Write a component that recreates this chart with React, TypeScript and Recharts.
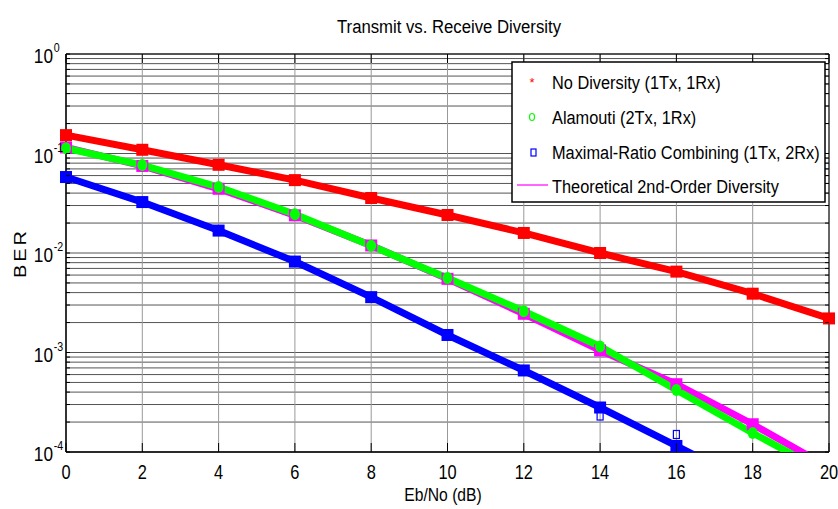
import React from "react";
import { ComposedChart, Line, XAxis, YAxis, CartesianGrid, ReferenceLine } from "recharts";

const ebNo = [0, 2, 4, 6, 8, 10, 12, 14, 16, 18, 20];
const berNoDiversity = [0.153, 0.109, 0.077, 0.054, 0.0357, 0.0241, 0.0159, 0.0100, 0.0065, 0.0039, 0.0022];
const berAlamouti = [0.113, 0.0766, 0.046, 0.0245, 0.0118, 0.0056, 0.0026, 0.00115, 0.00042, 0.000155, 0.00006];
const berTheory = [0.115, 0.075, 0.0442, 0.0239, 0.0119, 0.0055, 0.00245, 0.00105, 0.00048, 0.00019, 0.00007];
const berMrc = [0.058, 0.0325, 0.0168, 0.0082, 0.0036, 0.0015, 0.00066, 0.00028, 0.000115, 0.000047, 0.00002];
const berMrcSim = [null, null, null, null, null, null, null, 0.00023, 0.00015, null, null];

const xTicks = [0, 2, 4, 6, 8, 10, 12, 14, 16, 18, 20];
const yTicks = [
  0.0001, 0.0002, 0.0003, 0.0004, 0.0005, 0.0006, 0.0007, 0.0008, 0.0009,
  0.001, 0.002, 0.003, 0.004, 0.005, 0.006, 0.007, 0.008, 0.009,
  0.01, 0.02, 0.03, 0.04, 0.05, 0.06, 0.07, 0.08, 0.09,
  0.1, 0.2, 0.3, 0.4, 0.5, 0.6, 0.7, 0.8, 0.9,
  1,
];

const legendItems = [
  "No Diversity (1Tx, 1Rx)",
  "Alamouti (2Tx, 1Rx)",
  "Maximal-Ratio Combining (1Tx, 2Rx)",
  "Theoretical 2nd-Order Diversity",
];

const data = ebNo.map((x, i) => ({
  x,
  none: berNoDiversity[i],
  ala: berAlamouti[i],
  theory: berTheory[i],
  mrc: berMrc[i],
  mrcSim: berMrcSim[i],
}));

const FONT = "'Liberation Sans', Arial, sans-serif";
const SQX = 0.82;
const W = 838;
const H = 509;
const TOP = 54;
const BOTTOM = 452;
const LEFT = 66;
const RIGHT = 829;

const squareDot = (color: string, size: number) => (p: any) => {
  if (p.cy == null || p.cx == null) return <g key={`e-${p.index}`} />;
  return <rect key={`d-${p.index}`} x={p.cx - size / 2} y={p.cy - size / 2} width={size} height={size} fill={color} />;
};

// green markers in the picture are small, slightly tall blobs
const greenDot = (p: any) => {
  if (p.cy == null || p.cx == null) return <g key={`g-${p.index}`} />;
  return <ellipse key={`g-${p.index}`} cx={p.cx} cy={p.cy} rx={5} ry={6} fill="#00ff00" />;
};

const hollowDot = (p: any) => {
  if (p.cy == null || p.value == null) return <g key={`h-${p.index}`} />;
  return <rect key={`h-${p.index}`} x={p.cx - 3} y={p.cy - 4} width={6} height={8} fill="none" stroke="#0000ff" strokeWidth={1.2} />;
};

const XTick = (props: any) => {
  const { x, payload } = props;
  return (
    <g>
      <line x1={x} x2={x} y1={BOTTOM} y2={BOTTOM - 9} stroke="#000" />
      <line x1={x} x2={x} y1={TOP} y2={TOP + 9} stroke="#000" />
      <g transform={`translate(${x},479) scale(${SQX},1)`}>
        <text x={0} y={0} textAnchor="middle" fontSize={20} fontFamily={FONT} fill="#000">
          {payload.value}
        </text>
      </g>
    </g>
  );
};

const YTick = (props: any) => {
  const { y, payload } = props;
  const lg = Math.log10(payload.value);
  const isDecade = Math.abs(lg - Math.round(lg)) < 1e-9;
  return (
    <g>
      <line x1={LEFT} x2={LEFT + 4} y1={y} y2={y} stroke="#000" />
      <line x1={RIGHT} x2={RIGHT - 4} y1={y} y2={y} stroke="#000" />
      {isDecade && (
        <g transform={`translate(53,${y + 9}) scale(${SQX},1)`}>
          <text x={0} y={0} textAnchor="end" fontSize={21} fontFamily={FONT} fill="#000">10</text>
          <text x={1} y={-11} textAnchor="start" fontSize={13} fontFamily={FONT} fill="#000">
            {Math.round(lg)}
          </text>
        </g>
      )}
    </g>
  );
};

const LegendBox = () => {
  const bases = [89, 124, 159, 193];
  return (
    <svg width={W} height={H} style={{ position: "absolute", left: 0, top: 0, pointerEvents: "none" }}>
      <rect x={512} y={62} width={313} height={140} fill="#fff" stroke="#000" strokeWidth={1.5} />
      <text x={532} y={87} textAnchor="middle" fontSize={13} fill="#ff0000" fontFamily={FONT}>*</text>
      <ellipse cx={532} cy={117} rx={2.5} ry={3.5} fill="none" stroke="#00ff00" strokeWidth={1.2} />
      <rect x={531} y={149} width={5} height={7} fill="none" stroke="#0000ff" strokeWidth={1.2} />
      <line x1={517} x2={548} y1={185} y2={185} stroke="#ff00ff" strokeWidth={1.2} />
      {legendItems.map((t, i) => (
        <g key={t} transform={`translate(552,${bases[i]}) scale(0.86,1)`}>
          <text x={0} y={0} fontSize={19} fontFamily={FONT} fill="#000">{t}</text>
        </g>
      ))}
      <g transform={`translate(449,33) scale(0.88,1)`}>
        <text x={0} y={0} textAnchor="middle" fontSize={19} fontFamily={FONT} fill="#000">
          Transmit vs. Receive Diversity
        </text>
      </g>
      <g transform={`translate(443,501) scale(0.87,1)`}>
        <text x={0} y={0} textAnchor="middle" fontSize={18} fontFamily={FONT} fill="#000">Eb/No (dB)</text>
      </g>
      <g transform={`translate(26,253) scale(0.85,1) rotate(-90)`}>
        <text x={0} y={0} textAnchor="middle" fontSize={20} letterSpacing={3} fontFamily={FONT} fill="#000">BER</text>
      </g>
    </svg>
  );
};

export default function App() {
  return (
    <div style={{ position: "absolute", left: 0, top: 0, width: W, height: H, background: "#fff" }}>
      <ComposedChart
        width={W}
        height={H}
        data={data}
        margin={{ top: TOP, right: W - RIGHT, left: 0, bottom: 0 }}
      >
        <CartesianGrid horizontal vertical={false} stroke="#555" strokeWidth={1} />
        <CartesianGrid horizontal={false} vertical stroke="#999" strokeWidth={1} />
        <XAxis
          dataKey="x"
          type="number"
          domain={[0, 20]}
          ticks={xTicks}
          interval={0}
          height={H - BOTTOM}
          tickLine={false}
          axisLine={false}
          tick={<XTick />}
        />
        <YAxis
          type="number"
          scale="log"
          domain={[0.0001, 1]}
          allowDataOverflow
          ticks={yTicks}
          interval={0}
          width={LEFT}
          tickLine={false}
          axisLine={false}
          tick={<YTick />}
        />
        <ReferenceLine x={0} stroke="#000" strokeWidth={1.5} />
        <ReferenceLine x={20} stroke="#000" strokeWidth={1} />
        <ReferenceLine y={1} stroke="#000" strokeWidth={1} />
        <ReferenceLine y={0.0001} stroke="#000" strokeWidth={1.5} />
        <Line dataKey="theory" type="linear" stroke="#ff00ff" strokeWidth={7} dot={squareDot("#ff00ff", 12)} isAnimationActive={false} />
        <Line dataKey="ala" type="linear" stroke="#00ff00" strokeWidth={7} dot={greenDot} isAnimationActive={false} />
        <Line dataKey="none" type="linear" stroke="#ff0000" strokeWidth={7} dot={squareDot("#ff0000", 12)} isAnimationActive={false} />
        <Line dataKey="mrc" type="linear" stroke="#0000ff" strokeWidth={7} dot={squareDot("#0000ff", 12)} isAnimationActive={false} />
        <Line dataKey="mrcSim" type="linear" stroke="none" dot={hollowDot} isAnimationActive={false} />
      </ComposedChart>
      <LegendBox />
    </div>
  );
}
